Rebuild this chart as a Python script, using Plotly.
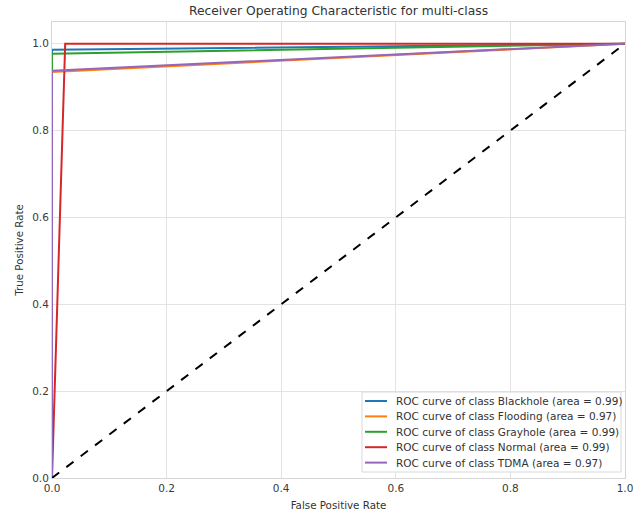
import plotly.graph_objects as go

# ROC curve points per class (false positive rate, true positive rate)
class_names = ["Blackhole", "Flooding", "Grayhole", "Normal", "TDMA"]
class_auc = [0.99, 0.97, 0.99, 0.99, 0.97]
fpr_blackhole = [0.0, 0.0, 1.0]
tpr_blackhole = [0.0, 0.986, 1.0]
fpr_flooding = [0.0, 0.0, 1.0]
tpr_flooding = [0.0, 0.935, 1.0]
fpr_grayhole = [0.0, 0.0, 1.0]
tpr_grayhole = [0.0, 0.977, 1.0]
fpr_normal = [0.0, 0.0, 0.023, 1.0]
tpr_normal = [0.0, 0.0, 1.0, 1.0]
fpr_tdma = [0.0, 0.0, 1.0]
tpr_tdma = [0.0, 0.938, 1.0]

# chance diagonal
diag_x = [0.0, 1.0]
diag_y = [0.0, 1.0]

tick_vals = [0.0, 0.2, 0.4, 0.6, 0.8, 1.0]
tick_text = ["0.0", "0.2", "0.4", "0.6", "0.8", "1.0"]

colors = ["#1f77b4", "#ff7f0e", "#2ca02c", "#d62728", "#9467bd"]
curves = [
    (fpr_blackhole, tpr_blackhole),
    (fpr_flooding, tpr_flooding),
    (fpr_grayhole, tpr_grayhole),
    (fpr_normal, tpr_normal),
    (fpr_tdma, tpr_tdma),
]

W, H = 643, 512
ML, MR, MT, MB = 52, 18, 22, 34
PW, PH = W - ML - MR, H - MT - MB
font_family = "DejaVu Sans"
text_color = "#333333"

fig = go.Figure()
for name, auc, (fx, ty), c in zip(class_names, class_auc, curves, colors):
    fig.add_trace(go.Scatter(
        x=fx, y=ty, mode="lines",
        line=dict(color=c, width=2),
        name=f"ROC curve of class {name} (area = {auc:.2f})",
        showlegend=False,
    ))

fig.add_trace(go.Scatter(
    x=diag_x, y=diag_y, mode="lines",
    line=dict(color="black", width=2, dash="dash"),
    showlegend=False,
))


def px_x(p):
    return (p - ML) / PW


def px_y(p):
    return (H - MB - p) / PH


# compact legend box in the lower-right corner
shapes = [dict(
    type="rect", xref="paper", yref="paper",
    x0=px_x(362), x1=px_x(621), y0=px_y(472), y1=px_y(392),
    line=dict(color="#d9d9d9", width=1), fillcolor="rgba(255,255,255,0.85)",
    layer="above",
)]
annotations = []
row_gap = 15.4
for i, (name, auc, c) in enumerate(zip(class_names, class_auc, colors)):
    yc = 401 + i * row_gap
    shapes.append(dict(
        type="line", xref="paper", yref="paper",
        x0=px_x(365), x1=px_x(387), y0=px_y(yc), y1=px_y(yc),
        line=dict(color=c, width=2), layer="above",
    ))
    annotations.append(dict(
        xref="paper", yref="paper", x=px_x(394), y=px_y(yc),
        xanchor="left", yanchor="middle", showarrow=False,
        text=f"ROC curve of class {name} (area = {auc:.2f})",
        font=dict(size=10.5, color=text_color, family=font_family),
    ))

axis_common = dict(
    showgrid=True, gridcolor="#e3e3e3", gridwidth=1,
    zeroline=False, showline=True, linecolor="#d6d6d6", linewidth=1,
    mirror=True, ticks="", automargin=False,
    tickfont=dict(size=10.5, color="#3a3a3a", family=font_family),
    tickvals=tick_vals, ticktext=tick_text,
)

fig.update_layout(
    width=W, height=H,
    margin=dict(l=ML, r=MR, t=MT, b=MB, autoexpand=False),
    paper_bgcolor="white", plot_bgcolor="white",
    font=dict(family=font_family, color=text_color),
    showlegend=False,
    title=dict(
        text="Receiver Operating Characteristic for multi-class",
        x=(ML + W - MR) / 2 / W, xanchor="center", y=1 - 11 / H, yanchor="middle",
        font=dict(size=12.3, color=text_color, family=font_family),
    ),
    xaxis=dict(
        range=[0, 1],
        title=dict(text="False Positive Rate", font=dict(size=10.3, color=text_color), standoff=9),
        **axis_common,
    ),
    yaxis=dict(
        range=[0, 1.05],
        title=dict(text="True Positive Rate", font=dict(size=10.3, color=text_color), standoff=6),
        **axis_common,
    ),
    shapes=shapes,
    annotations=annotations,
)

fig.write_html("out.html")
